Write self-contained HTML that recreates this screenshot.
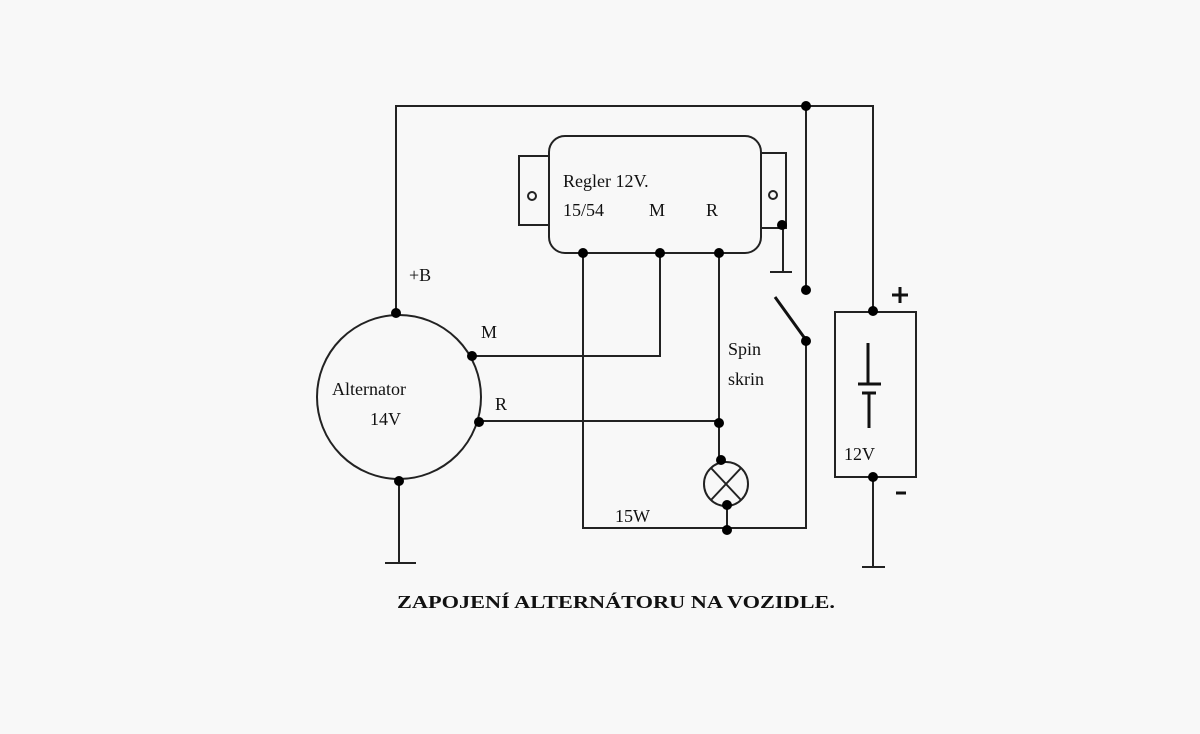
<!DOCTYPE html>
<html><head><meta charset="utf-8"><style>
html,body{margin:0;padding:0;background:#f8f8f8;}
svg{display:block;}
text{font-family:"Liberation Serif",serif;fill:#111;}
</style></head><body>
<svg width="1200" height="734" viewBox="0 0 1200 734" xmlns="http://www.w3.org/2000/svg">
<rect width="1200" height="734" fill="#f8f8f8"/>
<g stroke="#222" stroke-width="2" fill="none">
<polyline points="396,312 396,106 873,106 873,312"/>
<line x1="806" y1="106" x2="806" y2="290"/>
<polyline points="806,340 806,528 583,528 583,253"/>
<circle cx="399" cy="397" r="82"/>
<polyline points="472,356 660,356 660,253"/>
<polyline points="479,421 719,421"/>
<line x1="719" y1="253" x2="719" y2="460"/>
<line x1="399" y1="480" x2="399" y2="562"/>
<line x1="385" y1="563" x2="416" y2="563"/>
<rect x="549" y="136" width="212" height="117" rx="16"/>
<polyline points="549,156 519,156 519,225 549,225"/>
<polyline points="761,153 786,153 786,228 761,228"/>
<circle cx="532" cy="196" r="4"/>
<circle cx="773" cy="195" r="4"/>
<line x1="783" y1="225" x2="783" y2="271"/>
<line x1="770" y1="272" x2="792" y2="272"/>
<circle cx="726" cy="484" r="22"/>
<line x1="711" y1="468" x2="741" y2="500"/>
<line x1="711" y1="500" x2="741" y2="468"/>
<line x1="727" y1="505" x2="727" y2="528"/>
<rect x="835" y="312" width="81" height="165"/>
<line x1="873" y1="477" x2="873" y2="566"/>
<line x1="862" y1="567" x2="885" y2="567"/>
</g>
<g stroke="#111" stroke-width="3">
<line x1="775" y1="297" x2="806" y2="340"/>
<line x1="868" y1="343" x2="868" y2="383"/>
<line x1="858" y1="384" x2="881" y2="384"/>
<line x1="862" y1="393" x2="876" y2="393"/>
<line x1="869" y1="393" x2="869" y2="428"/>
<line x1="892" y1="295" x2="908" y2="295"/>
<line x1="900" y1="287" x2="900" y2="303"/>
<line x1="896" y1="493" x2="906" y2="493"/>
</g>
<g fill="#000">
<circle cx="806" cy="106" r="5"/>
<circle cx="806" cy="290" r="5"/>
<circle cx="806" cy="341" r="5"/>
<circle cx="396" cy="313" r="5"/>
<circle cx="472" cy="356" r="5"/>
<circle cx="479" cy="422" r="5"/>
<circle cx="399" cy="481" r="5"/>
<circle cx="583" cy="253" r="5"/>
<circle cx="660" cy="253" r="5"/>
<circle cx="719" cy="253" r="5"/>
<circle cx="782" cy="225" r="5"/>
<circle cx="719" cy="423" r="5"/>
<circle cx="721" cy="460" r="5"/>
<circle cx="727" cy="505" r="5"/>
<circle cx="727" cy="530" r="5"/>
<circle cx="873" cy="311" r="5"/>
<circle cx="873" cy="477" r="5"/>
</g>
<g font-size="18">
<text x="563" y="187">Regler 12V.</text>
<text x="563" y="216">15/54</text>
<text x="649" y="216">M</text>
<text x="706" y="216">R</text>
<text x="409" y="281">+B</text>
<text x="481" y="338">M</text>
<text x="495" y="410">R</text>
<text x="332" y="395">Alternator</text>
<text x="370" y="425">14V</text>
<text x="728" y="355">Spin</text>
<text x="728" y="385">skrin</text>
<text x="615" y="522">15W</text>
<text x="844" y="460">12V</text>
<text x="397" y="608" font-weight="bold" font-size="18" textLength="438" lengthAdjust="spacingAndGlyphs">ZAPOJENÍ ALTERNÁTORU NA VOZIDLE.</text>
</g>
</svg>
</body></html>
